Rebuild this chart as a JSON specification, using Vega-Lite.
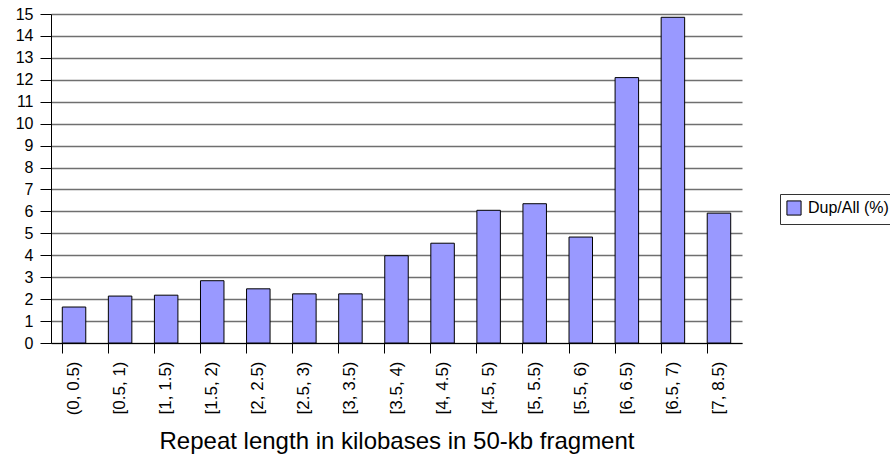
{
  "$schema": "https://vega.github.io/schema/vega-lite/v6.json",
  "width": 691,
  "height": 329,
  "autosize": "none",
  "padding": {"left": 51, "top": 14, "right": 148, "bottom": 117},
  "background": "white",
  "config": {
    "font": "Liberation Sans",
    "view": {"stroke": null},
    "axis": {"labelColor": "#000", "titleColor": "#000", "labelFont": "Liberation Sans", "titleFont": "Liberation Sans"}
  },
  "data": {
    "values": [
      {"bin": "(0, 0.5)", "value": 1.64, "series": "Dup/All (%)"},
      {"bin": "[0.5, 1)", "value": 2.14, "series": "Dup/All (%)"},
      {"bin": "[1, 1.5)", "value": 2.18, "series": "Dup/All (%)"},
      {"bin": "[1.5, 2)", "value": 2.84, "series": "Dup/All (%)"},
      {"bin": "[2, 2.5)", "value": 2.47, "series": "Dup/All (%)"},
      {"bin": "[2.5, 3)", "value": 2.24, "series": "Dup/All (%)"},
      {"bin": "[3, 3.5)", "value": 2.24, "series": "Dup/All (%)"},
      {"bin": "[3.5, 4)", "value": 3.98, "series": "Dup/All (%)"},
      {"bin": "[4, 4.5)", "value": 4.55, "series": "Dup/All (%)"},
      {"bin": "[4.5, 5)", "value": 6.05, "series": "Dup/All (%)"},
      {"bin": "[5, 5.5)", "value": 6.35, "series": "Dup/All (%)"},
      {"bin": "[5.5, 6)", "value": 4.83, "series": "Dup/All (%)"},
      {"bin": "[6, 6.5)", "value": 12.1, "series": "Dup/All (%)"},
      {"bin": "[6.5, 7)", "value": 14.85, "series": "Dup/All (%)"},
      {"bin": "[7, 8.5)", "value": 5.92, "series": "Dup/All (%)"}
    ]
  },
  "mark": {"type": "bar", "stroke": "#000", "strokeWidth": 1},
  "encoding": {
    "x": {
      "field": "bin",
      "type": "nominal",
      "sort": null,
      "scale": {"paddingInner": 0.49, "paddingOuter": 0.245},
      "axis": {
        "title": "Repeat length in kilobases in 50-kb fragment",
        "titleFontSize": 24,
        "titleFontWeight": "normal",
        "titlePadding": 15,
        "labelAngle": -90,
        "labelFontSize": 17,
        "labelPadding": 8,
        "bandPosition": 0,
        "tickSize": 10,
        "tickColor": "#000",
        "domainColor": "#000",
        "grid": false
      }
    },
    "y": {
      "field": "value",
      "type": "quantitative",
      "scale": {"domain": [0, 15], "nice": false},
      "axis": {
        "title": null,
        "values": [0, 1, 2, 3, 4, 5, 6, 7, 8, 9, 10, 11, 12, 13, 14, 15],
        "labelFontSize": 16,
        "labelPadding": 7,
        "tickSize": 11,
        "tickColor": "#000",
        "domainColor": "#000",
        "grid": true,
        "gridColor": "#6f6f6f",
        "gridWidth": 1.6
      }
    },
    "color": {
      "field": "series",
      "type": "nominal",
      "scale": {"range": ["#9999FF"]},
      "legend": {
        "title": null,
        "orient": "none",
        "legendX": 729,
        "legendY": 180,
        "symbolType": "square",
        "symbolSize": 200,
        "symbolStrokeColor": "#000",
        "symbolStrokeWidth": 1,
        "labelFontSize": 16,
        "labelColor": "#000",
        "labelOffset": 6,
        "padding": 6,
        "strokeColor": "#333",
        "fillColor": "#fff"
      }
    }
  }
}
